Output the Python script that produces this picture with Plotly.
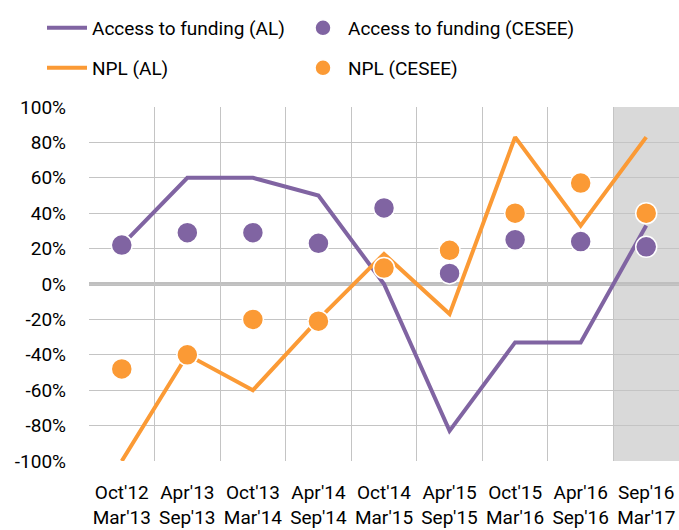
import plotly.graph_objects as go

categories = ["Oct'12<br>Mar'13", "Apr'13<br>Sep'13", "Oct'13<br>Mar'14", "Apr'14<br>Sep'14",
              "Oct'14<br>Mar'15", "Apr'15<br>Sep'15", "Oct'15<br>Mar'16", "Apr'16<br>Sep'16",
              "Sep'16<br>Mar'17"]
access_al = [22, 60, 60, 50, 0, -83, -33, -33, 33]
npl_al = [-100, -40, -60, -20, 17, -17, 83, 33, 83]
access_cesee = [22, 29, 29, 23, 43, 6, 25, 24, 21]
npl_cesee = [-48, -40, -20, -21, 9, 19, 40, 57, 40]
y_ticks = [-100, -80, -60, -40, -20, 0, 20, 40, 60, 80, 100]

PURPLE = "#8064a2"
ORANGE = "#fb9a35"
FONT = "Roboto, sans-serif"
FS = 19

fig = go.Figure()
fig.add_trace(go.Scatter(x=categories, y=access_al, mode="lines", name="Access to funding (AL)",
                         line=dict(color=PURPLE, width=4), legend="legend"))
fig.add_trace(go.Scatter(x=categories, y=npl_al, mode="lines", name="NPL (AL)",
                         line=dict(color=ORANGE, width=4), legend="legend3"))
fig.add_trace(go.Scatter(x=categories, y=access_cesee, mode="markers", name="Access to funding (CESEE)",
                         marker=dict(color=PURPLE, size=21, line=dict(color="white", width=1.5)),
                         legend="legend2"))
fig.add_trace(go.Scatter(x=categories, y=npl_cesee, mode="markers", name="NPL (CESEE)",
                         marker=dict(color=ORANGE, size=21, line=dict(color="white", width=1.5)),
                         legend="legend4"))

# forecast shading over the last category
fig.add_shape(type="rect", xref="x", yref="paper", x0=len(categories) - 1.5, x1=len(categories) - 0.5,
              y0=0, y1=1, fillcolor="#d9d9d9", line=dict(width=0), layer="between")
fig.add_shape(type="line", xref="paper", yref="y", x0=0, x1=1, y0=0, y1=0,
              line=dict(color="#bfbfbf", width=4), layer="between")

L, T, B = 89, 107, 69
W, H = 679, 530
PW = W - L
PH = H - T - B
legend_common = dict(orientation="h", xanchor="left", yanchor="middle", bgcolor="rgba(0,0,0,0)",
                     font=dict(family=FONT, size=FS, color="#000"), itemwidth=40)
col1 = (42 - L) / PW
col2 = (298 - L) / PW
row1 = 1 + (T - 28) / PH
row2 = 1 + (T - 68) / PH

fig.update_layout(
    width=W, height=H,
    margin=dict(l=L, r=0, t=T, b=B, autoexpand=False),
    plot_bgcolor="white", paper_bgcolor="white",
    font=dict(family=FONT, size=FS, color="#000"),
    showlegend=True,
    legend=dict(**legend_common, x=col1, y=row1),
    legend2=dict(**legend_common, x=col2, y=row1),
    legend3=dict(**legend_common, x=col1, y=row2),
    legend4=dict(**legend_common, x=col2, y=row2),
    xaxis=dict(type="category", tickson="boundaries", showgrid=True, gridcolor="#c4c4c4", gridwidth=1,
               range=[-0.5, len(categories) - 0.5], ticks="", showline=False, zeroline=False,
               tickangle=0, tickfont=dict(family=FONT, size=FS, color="#000"), ticklabelstandoff=18),
    yaxis=dict(range=[-100, 100], tickvals=y_ticks, ticktext=[f"{v}%" for v in y_ticks],
               showgrid=True, gridcolor="#c4c4c4", gridwidth=1, zeroline=False, showline=False,
               ticks="", ticklabelstandoff=22, tickfont=dict(family=FONT, size=FS, color="#000")),
)

fig.write_html("out.html", config={"displayModeBar": False},
               post_script="document.body.style.margin='0';")
